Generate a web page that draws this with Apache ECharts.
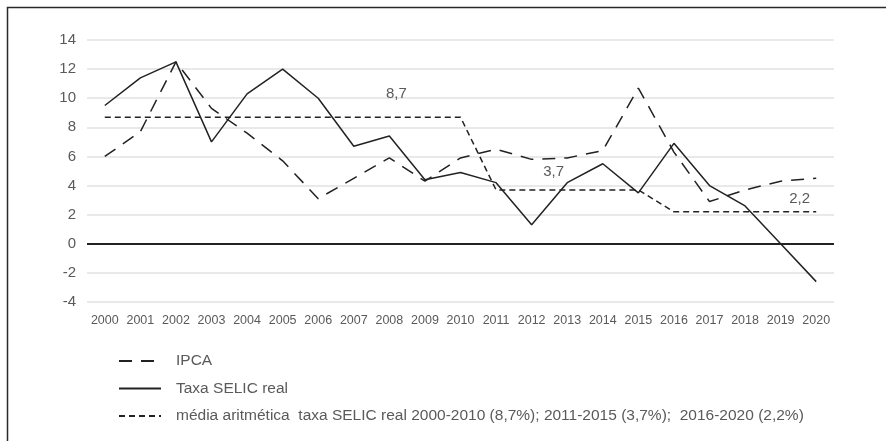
<!DOCTYPE html>
<html>
<head>
<meta charset="utf-8">
<script src="https://cdn.jsdelivr.net/npm/echarts@6/dist/echarts.min.js"></script>
<style>
html,body{margin:0;padding:0;background:#fff;}
#chart{width:886px;height:441px;}
</style>
</head>
<body>
<div id="chart"></div>
<script>
// ---- data ----
const years = ['2000','2001','2002','2003','2004','2005','2006','2007','2008','2009','2010',
               '2011','2012','2013','2014','2015','2016','2017','2018','2019','2020'];
const ipca  = [6.0, 7.7, 12.5, 9.3, 7.6, 5.7, 3.1, 4.5, 5.9, 4.3, 5.9,
               6.5, 5.8, 5.9, 6.4, 10.7, 6.3, 2.9, 3.7, 4.3, 4.5];
const selic = [9.5, 11.4, 12.5, 7.0, 10.3, 12.0, 10.0, 6.7, 7.4, 4.4, 4.9,
               4.2, 1.3, 4.2, 5.5, 3.5, 6.9, 4.0, 2.6, 0.0, -2.6];
const media = [8.7, 8.7, 8.7, 8.7, 8.7, 8.7, 8.7, 8.7, 8.7, 8.7, 8.7,
               3.7, 3.7, 3.7, 3.7, 3.7, 2.2, 2.2, 2.2, 2.2, 2.2];
const yMin = -4, yMax = 14, yStep = 2;
const seriesNames = ['IPCA', 'Taxa SELIC real',
  'média aritmética  taxa SELIC real 2000-2010 (8,7%); 2011-2015 (3,7%);  2016-2020 (2,2%)'];
const mediaLabelYears = ['2008', '2012', '2019'];
const mediaLabelValues = [8.7, 3.7, 2.2];
const mediaLabelTexts = ['8,7', '3,7', '2,2'];

// ---- chart ----
const FONT = "'Liberation Sans', Arial, sans-serif";
const TXT = '#5a5a5a';
const labelOffsets = [[7, -23], [22, -18], [19, -13]];

const chart = echarts.init(document.getElementById('chart'), null, {renderer: 'canvas'});
chart.setOption({
  animation: false,
  backgroundColor: '#fff',
  textStyle: {fontFamily: FONT},
  graphic: [{
    type: 'rect', silent: true, z: 100,
    shape: {x: 7.5, y: 7.5, width: 1000, height: 1000},
    style: {fill: 'none', stroke: '#2a2a2a', lineWidth: 1.5}
  }],
  grid: {left: 87, right: 52, top: 40, bottom: 139, containLabel: false},
  legend: {
    orient: 'vertical', left: 118, top: 353, padding: 0,
    itemWidth: 42, itemHeight: 14, itemGap: 11.5,
    data: seriesNames,
    itemStyle: {color: 'rgba(0,0,0,0)', borderColor: 'rgba(0,0,0,0)', borderWidth: 0},
    lineStyle: {width: 2},
    textStyle: {color: TXT, fontSize: 15.5, fontFamily: FONT, padding: [0, 0, 0, 10]}
  },
  xAxis: {
    type: 'category', data: years, boundaryGap: true,
    axisLine: {show: false, onZero: false}, axisTick: {show: false},
    axisLabel: {color: TXT, fontSize: 12.5, margin: 12, interval: 0, fontFamily: FONT},
    splitLine: {show: false}
  },
  yAxis: {
    type: 'value', min: yMin, max: yMax, interval: yStep,
    axisLine: {show: false}, axisTick: {show: false},
    axisLabel: {color: TXT, fontSize: 15, margin: 11, fontFamily: FONT},
    splitLine: {show: true, lineStyle: {color: '#e9e9e9', width: 2}}
  },
  series: [
    {
      name: seriesNames[0], type: 'line', data: ipca, symbol: 'none',
      lineStyle: {color: '#222', width: 1.5, type: [13, 9]},
      itemStyle: {color: '#222'}, z: 3
    },
    {
      name: seriesNames[1], type: 'line', data: selic, symbol: 'none',
      lineStyle: {color: '#222', width: 1.5, type: 'solid'},
      itemStyle: {color: '#222'}, z: 4,
      markLine: {
        silent: true, symbol: ['none', 'none'], label: {show: false},
        lineStyle: {color: '#222', width: 2, type: 'solid'},
        data: [{yAxis: 0}]
      }
    },
    {
      name: seriesNames[2], type: 'line', data: media, symbol: 'none',
      lineStyle: {color: '#222', width: 1.5, type: [6, 4]},
      itemStyle: {color: '#222'}, z: 2,
      markPoint: {
        silent: true, symbol: 'circle', symbolSize: 0,
        data: mediaLabelYears.map((y, i) => ({
          coord: [y, mediaLabelValues[i]],
          label: {show: true, position: 'inside', offset: labelOffsets[i],
                  formatter: mediaLabelTexts[i], color: TXT, fontSize: 15, fontFamily: FONT}
        }))
      }
    }
  ]
});
</script>
</body>
</html>
